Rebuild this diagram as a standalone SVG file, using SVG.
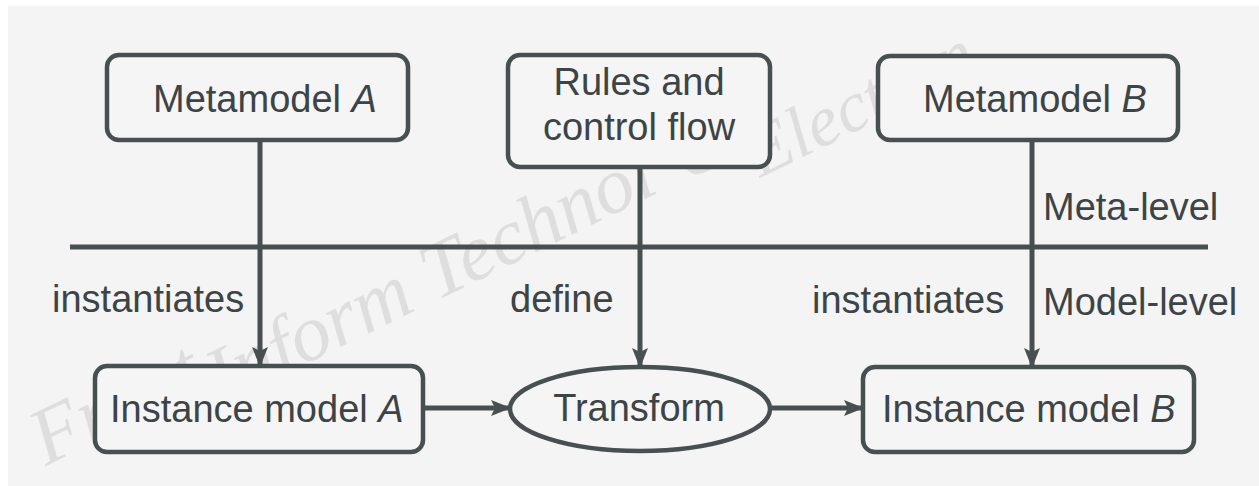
<svg xmlns="http://www.w3.org/2000/svg" width="1259" height="486" viewBox="0 0 1259 486">
<style>
.bg{fill:#f4f4f4}
.box{fill:#f5f5f5;stroke:#474f51;stroke-width:4.5}
.ln{fill:none;stroke:#474f51;stroke-width:5}
.t{font-family:"Liberation Sans",Arial,sans-serif;font-size:38px;fill:#3c4446}
.wm{font-family:"Liberation Serif","Times New Roman",serif;font-style:italic;font-size:80px;fill:#dedede}
</style>
<defs>
<marker id="ah" viewBox="0 0 20 16" refX="19" refY="8" markerWidth="20" markerHeight="16" markerUnits="userSpaceOnUse" orient="auto">
<path d="M0,0 L20,8 L0,16 L4,8 Z" fill="#474f51"/>
</marker>
</defs>
<rect width="1259" height="486" fill="#ffffff"/>
<rect class="bg" x="8" y="6" width="1251" height="480"/>
<g id="watermark">
<text class="wm" x="46" y="466" transform="rotate(-26 46 466)">Front</text>
<text class="wm" x="222" y="405" transform="rotate(-26 222 405)">Inform</text>
<text class="wm" x="436" y="301" transform="rotate(-26 436 301)">Technol</text>
<text class="wm" x="688" y="180" transform="rotate(-26 688 180)">&amp;</text>
<text class="wm" x="760" y="178" transform="rotate(-26 760 178)" style="font-size:72px">Electron</text>
</g>
<g id="connectors">
<line class="ln" x1="70" y1="247" x2="1208" y2="247"/>
<line class="ln" x1="260" y1="140" x2="260" y2="366" marker-end="url(#ah)"/>
<line class="ln" x1="640" y1="167" x2="640" y2="367" marker-end="url(#ah)"/>
<line class="ln" x1="1032" y1="140" x2="1032" y2="367" marker-end="url(#ah)"/>
<line class="ln" x1="423" y1="408" x2="510" y2="408" marker-end="url(#ah)"/>
<line class="ln" x1="770" y1="408" x2="863" y2="408" marker-end="url(#ah)"/>
</g>
<g id="metamodelA">
<rect class="box" x="107" y="55" width="301" height="85" rx="12"/>
<text class="t" x="153" y="112">Metamodel <tspan font-style="italic">A</tspan></text>
</g>
<g id="rules">
<rect class="box" x="508" y="55" width="262" height="112" rx="12"/>
<text class="t" x="639" y="95" text-anchor="middle">Rules and</text>
<text class="t" x="639" y="140" text-anchor="middle">control flow</text>
</g>
<g id="metamodelB">
<rect class="box" x="878" y="56" width="300" height="84" rx="12"/>
<text class="t" x="923" y="112">Metamodel <tspan font-style="italic">B</tspan></text>
</g>
<g id="instanceA">
<rect class="box" x="95" y="366" width="328" height="86" rx="12"/>
<text class="t" x="110" y="422">Instance model <tspan font-style="italic">A</tspan></text>
</g>
<g id="transform">
<ellipse class="box" cx="640" cy="409" rx="130" ry="42"/>
<text class="t" x="639" y="421" text-anchor="middle">Transform</text>
</g>
<g id="instanceB">
<rect class="box" x="863" y="367" width="331" height="85" rx="12"/>
<text class="t" x="882" y="422">Instance model <tspan font-style="italic">B</tspan></text>
</g>
<g id="labels">
<text class="t" x="52" y="312">instantiates</text>
<text class="t" x="510" y="312">define</text>
<text class="t" x="812" y="313">instantiates</text>
<text class="t" x="1043" y="220">Meta-level</text>
<text class="t" x="1043" y="315">Model-level</text>
</g>
</svg>
